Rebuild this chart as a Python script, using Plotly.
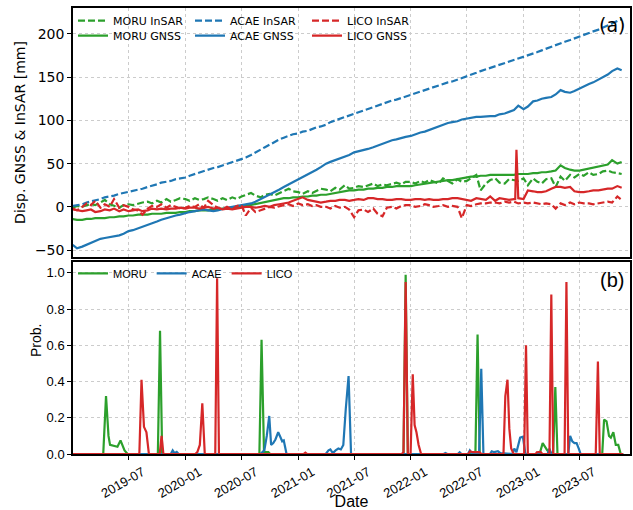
import pandas as pd
import plotly.graph_objects as go

# ---------------- data ----------------
# Panel (a): semi-monthly samples (1st and 15th of each month), 2019-01-01 .. 2023-11-15
GRID_START = "2019-01-01"
GRID_END = "2023-11-15"

ACAE_GNSS = [
    -44, -48, -46, -44, -42, -40, -37, -36, -35, -34, -33, -31, -28, -27, -25, -23, -21, -19, -17, -15, -13, -12, -10, -9,
    -7, -6, -5, -4, -3, -4, -5, -4, -2, -1, 0, 1, 2, 3, 4, 6, 9, 11, 14, 17, 20, 23, 26, 28,
    31, 34, 37, 40, 43, 46, 50, 52, 54, 56, 58, 60, 63, 64, 66, 67, 69, 71, 73, 75, 77, 78, 80, 81,
    82, 84, 86, 87, 89, 91, 93, 95, 97, 98, 99, 101, 102, 103, 104, 104, 105, 105, 105, 107, 108, 110, 112, 117,
    113, 116, 122, 123, 125, 126, 127, 130, 135, 133, 132, 134, 137, 139, 142, 144, 147, 150, 153, 157, 160, 158,
]
ACAE_INSAR = [
    1, 2, 3, 5, 6, 7, 9, 11, 12, 13, 15, 16, 18, 19, 20, 21, 23, 24, 26, 28, 29, 30, 32, 33,
    34, 36, 38, 40, 42, 43, 45, 46, 48, 50, 52, 53, 55, 57, 60, 63, 66, 69, 72, 75, 78, 80, 82, 84,
    85, 87, 88, 90, 92, 93, 95, 98, 100, 102, 104, 106, 108, 110, 112, 114, 116, 117, 119, 121, 123, 124, 126, 127,
    129, 131, 133, 135, 137, 139, 141, 142, 144, 145, 147, 149, 151, 153, 155, 157, 159, 161, 163, 164, 166, 168, 170, 171,
    173, 175, 177, 179, 181, 183, 185, 187, 189, 191, 193, 195, 197, 199, 201, 203, 205, 207, 210, 212, 215, 217,
]
MORU_GNSS = [
    -14, -15, -15, -14, -14, -13, -13, -13, -12, -12, -11, -11, -10, -10, -9, -9, -9, -8, -8, -8, -7, -7, -7, -6,
    -6, -5, -5, -4, -4, -4, -3, -3, -2, -2, -1, 0, 0, 1, 2, 3, 5, 6, 7, 8, 9, 10, 10, 11,
    11, 12, 12, 13, 13, 14, 14, 15, 16, 17, 18, 19, 19, 20, 20, 21, 21, 22, 22, 23, 23, 24, 24, 24,
    24, 25, 26, 27, 28, 29, 30, 30, 31, 31, 32, 33, 34, 35, 35, 36, 36, 37, 37, 37, 37, 37, 37, 38,
    38, 38, 39, 39, 40, 40, 41, 42, 48, 45, 43, 42, 42, 43, 44, 45, 46, 47, 49, 54, 50, 52,
]
MORU_INSAR = [
    -1, 1, 0, 2, 3, 2, 5, 8, 3, 1, -1, 2, 3, 2, 4, 5, 6, 4, 7, 5, 9, 6, 8, 10,
    9, 7, 10, 8, 9, 11, 9, 7, 10, 8, 11, 9, 12, 14, 16, 13, 11, 14, 15, 13, 16, 18, 21, 18,
    17, 15, 18, 16, 19, 21, 20, 18, 22, 20, 25, 21, 22, 24, 23, 25, 27, 24, 26, 25, 27, 28, 26, 29,
    29, 27, 30, 28, 31, 29, 27, 33, 30, 27, 32, 29, 30, 33, 37, 19, 27, 31, 33, 28, 27, 32, 31, 30,
    33, 25, 33, 29, 27, 32, 33, 23, 35, 30, 37, 34, 38, 36, 40, 37, 38, 41, 42, 40, 39, 38,
]
LICO_GNSS = [
    -3, -4, -5, -4, -3, -6, -5, -3, -4, -2, -5, -3, -5, -4, -3, -5, -4, -2, -3, -2, -3, -2, -2, -1,
    -2, -1, -1, -2, -1, 0, -2, -1, -3, -2, -3, -2, -1, 0, 0, -1, 0, 1, 0, 2, 3, 4, 5, 7,
    9, 11, 8, 7, 6, 5, 6, 7, 7, 8, 8, 7, 8, 9, 8, 10, 10, 9, 9, 8, 8, 9, 9, 8,
    8, 9, 9, 8, 9, 8, 8, 9, 9, 10, 10, 9, 8, 7, 10, 9, 8, 12, 7, 10, 9, 8, 9, 10,
    9, 19, 18, 17, 17, 18, 21, 23, 23, 22, 23, 18, 17, 17, 18, 19, 19, 20, 21, 21, 24, 22,
]
LICO_GNSS_SPIKE_DATES = ["2022-12-05", "2022-12-09", "2022-12-13"]
LICO_GNSS_SPIKE = [9, 66, 10]
LICO_INSAR = [
    -2, -4, 0, 4, 2, 7, -1, 3, 0, 9, -1, 2, 0, -3, -4, -9, -2, 1, 0, 3, -1, 2, 0, -2,
    -1, 1, 0, 3, -1, 7, 2, -1, -3, 0, -3, 1, 2, -10, -1, -6, -4, -2, 0, -1, 1, 2, 3, 1,
    4, 2, 3, 1, 2, 0, 0, -2, 1, -1, 0, -3, -12, -4, -3, -6, -2, -8, -11, -1, 0, -2, 1, 2,
    2, 0, 1, 3, 2, 0, 1, 2, 0, 1, 0, -13, 2, 1, 3, 4, 4, 5, 5, 4, 6, 5, 6, 4,
    5, 4, 5, 4, 3, 4, 3, -2, 4, 2, 5, 3, 5, 4, 4, 3, 4, 5, 6, 5, 12, 8,
]

# Panel (b): change probability, (date, value) pairs
MORU_PROB = [
    ("2019-01-01", 0), ("2019-04-10", 0), ("2019-04-19", 0.32), ("2019-04-27", 0.10), ("2019-05-02", 0.05),
    ("2019-05-19", 0.045), ("2019-05-26", 0.04), ("2019-06-05", 0.075), ("2019-06-11", 0.05), ("2019-06-18", 0.02),
    ("2019-06-28", 0), ("2019-10-04", 0), ("2019-10-11", 0.68), ("2019-10-18", 0),
    ("2020-08-28", 0), ("2020-09-04", 0.63), ("2020-09-12", 0.01), ("2020-09-26", 0.01), ("2020-10-02", 0),
    ("2021-12-08", 0), ("2021-12-15", 0.99), ("2021-12-22", 0),
    ("2022-07-29", 0), ("2022-08-05", 0.66), ("2022-08-12", 0),
    ("2023-02-22", 0), ("2023-03-04", 0.06), ("2023-03-11", 0.04), ("2023-03-19", 0.02), ("2023-04-07", 0),
    ("2023-04-14", 0.37), ("2023-04-21", 0),
    ("2023-09-13", 0), ("2023-09-19", 0.19), ("2023-09-27", 0.18), ("2023-10-05", 0.10), ("2023-10-11", 0.09),
    ("2023-10-19", 0.12), ("2023-10-27", 0.05), ("2023-11-04", 0.05), ("2023-11-12", 0), ("2023-11-20", 0),
]
ACAE_PROB = [
    ("2019-01-01", 0), ("2019-11-15", 0), ("2019-11-21", 0.02), ("2019-11-27", 0.005), ("2019-12-04", 0.012),
    ("2019-12-10", 0),
    ("2020-08-31", 0), ("2020-09-07", 0.01), ("2020-09-13", 0.02), ("2020-09-21", 0.10), ("2020-09-29", 0.21),
    ("2020-10-05", 0.05), ("2020-10-12", 0.06), ("2020-10-19", 0.08), ("2020-10-28", 0.12), ("2020-11-05", 0.09),
    ("2020-11-10", 0.07), ("2020-11-15", 0.075), ("2020-11-19", 0.03), ("2020-11-24", 0),
    ("2021-03-31", 0), ("2021-04-09", 0.02), ("2021-04-15", 0.025), ("2021-04-23", 0.005), ("2021-05-02", 0.02),
    ("2021-05-11", 0.03), ("2021-05-19", 0.025), ("2021-05-27", 0.05), ("2021-06-04", 0.25), ("2021-06-13", 0.43),
    ("2021-06-21", 0),
    ("2022-04-17", 0), ("2022-04-23", 0.005), ("2022-04-29", 0), ("2022-06-02", 0), ("2022-06-08", 0.01),
    ("2022-06-14", 0), ("2022-07-05", 0), ("2022-07-11", 0.02), ("2022-07-17", 0.005), ("2022-08-10", 0),
    ("2022-08-17", 0.47), ("2022-08-24", 0),
    ("2022-09-14", 0), ("2022-09-20", 0.015), ("2022-09-28", 0.01), ("2022-10-10", 0.015), ("2022-10-18", 0.005),
    ("2022-11-26", 0), ("2022-12-02", 0.03), ("2022-12-09", 0.01), ("2022-12-21", 0.09), ("2022-12-30", 0.095),
    ("2023-01-07", 0),
    ("2023-03-20", 0), ("2023-03-26", 0.03), ("2023-04-01", 0),
    ("2023-05-26", 0), ("2023-06-01", 0.10), ("2023-06-08", 0.07), ("2023-06-15", 0.06), ("2023-06-22", 0.06),
    ("2023-06-29", 0.03), ("2023-07-05", 0), ("2023-11-20", 0),
]
LICO_PROB = [
    ("2019-01-01", 0), ("2019-08-05", 0), ("2019-08-12", 0.41), ("2019-08-20", 0.15), ("2019-08-28", 0.12),
    ("2019-09-05", 0),
    ("2019-10-10", 0), ("2019-10-16", 0.10), ("2019-10-22", 0),
    ("2020-02-02", 0), ("2020-02-09", 0.01), ("2020-02-17", 0.05), ("2020-02-25", 0.28), ("2020-03-04", 0),
    ("2020-04-07", 0), ("2020-04-13", 0.97), ("2020-04-19", 0),
    ("2021-01-18", 0), ("2021-01-24", 0.008), ("2021-01-30", 0),
    ("2021-12-02", 0), ("2021-12-08", 0.01), ("2021-12-15", 0.95), ("2021-12-22", 0), ("2021-12-31", 0),
    ("2022-01-07", 0.44), ("2022-01-13", 0.16), ("2022-01-19", 0.12), ("2022-01-26", 0.05), ("2022-02-03", 0),
    ("2022-07-06", 0), ("2022-07-12", 0.015), ("2022-07-20", 0.01), ("2022-08-11", 0.01), ("2022-08-18", 0),
    ("2022-10-28", 0), ("2022-11-03", 0.32), ("2022-11-10", 0.41), ("2022-11-16", 0.14), ("2022-11-22", 0.03),
    ("2022-11-30", 0),
    ("2023-01-03", 0), ("2023-01-09", 0.60), ("2023-01-15", 0),
    ("2023-02-09", 0), ("2023-02-13", 0.01), ("2023-02-25", 0.012), ("2023-03-03", 0),
    ("2023-03-26", 0), ("2023-04-01", 0.88), ("2023-04-07", 0),
    ("2023-05-14", 0), ("2023-05-20", 0.95), ("2023-05-26", 0),
    ("2023-08-23", 0), ("2023-08-30", 0.51), ("2023-09-05", 0), ("2023-11-20", 0),
]

TICK_DATES = ["2019-07-01", "2020-01-01", "2020-07-01", "2021-01-01", "2021-07-01",
              "2022-01-01", "2022-07-01", "2023-01-01", "2023-07-01"]
TICK_LABELS = ["2019-07", "2020-01", "2020-07", "2021-01", "2021-07",
               "2022-01", "2022-07", "2023-01", "2023-07"]
X_RANGE = ["2019-01-02", "2023-12-12"]
YA_TICKS = [-50, 0, 50, 100, 150, 200]
YB_TICKS = [0.0, 0.2, 0.4, 0.6, 0.8, 1.0]

GREEN, BLUE, RED = "#2ca02c", "#1f77b4", "#d62728"

# ---------------- figure ----------------
W, H = 633, 510
L, R, T, B = 73, 3, 8, 56
PH = H - T - B
PW = W - L - R


def py(px):
    return 1 - (px - T) / PH


def pxx(px):
    return (px - L) / PW


grid = pd.date_range(GRID_START, GRID_END, freq="SMS")

lico_g = pd.concat([
    pd.Series(LICO_GNSS[:len(grid)], index=grid[:len(LICO_GNSS)]),
    pd.Series(LICO_GNSS_SPIKE, index=pd.to_datetime(LICO_GNSS_SPIKE_DATES)),
]).sort_index()

fig = go.Figure()

panel_a = [
    ("MORU InSAR", grid, MORU_INSAR, GREEN, "dash", "legend"),
    ("MORU GNSS", grid, MORU_GNSS, GREEN, "solid", "legend2"),
    ("ACAE InSAR", grid, ACAE_INSAR, BLUE, "dash", "legend"),
    ("ACAE GNSS", grid, ACAE_GNSS, BLUE, "solid", "legend2"),
    ("LICO InSAR", grid, LICO_INSAR, RED, "dash", "legend"),
    ("LICO GNSS", lico_g.index, lico_g.values, RED, "solid", "legend2"),
]
for name, x, y, col, dash, leg in panel_a:
    n = min(len(x), len(y))
    fig.add_trace(go.Scatter(
        x=list(x[:n]), y=list(y[:n]), name=name, mode="lines",
        line=dict(color=col, width=2.2, dash="7px,3px" if dash == "dash" else "solid"),
        xaxis="x", yaxis="y", legend=leg,
    ))

for name, pairs, col in [("MORU", MORU_PROB, GREEN), ("ACAE", ACAE_PROB, BLUE), ("LICO", LICO_PROB, RED)]:
    fig.add_trace(go.Scatter(
        x=[p[0] for p in pairs], y=[p[1] for p in pairs], name=name, mode="lines",
        line=dict(color=col, width=2.2), xaxis="x2", yaxis="y2", legend="legend3",
    ))

axis_common = dict(
    showline=True, mirror=True, linecolor="black", linewidth=1.5,
    showgrid=True, gridcolor="#cccccc", griddash="dot", gridwidth=1, zeroline=False,
)
DV = "DejaVu Sans"
LS = "Liberation Sans, Arial, sans-serif"

fig.update_layout(
    width=W, height=H, margin=dict(l=L, r=R, t=T, b=B, autoexpand=False),
    paper_bgcolor="white", plot_bgcolor="white",
    showlegend=True,
    xaxis=dict(domain=[0, 1], anchor="y", type="date", range=X_RANGE,
               tickvals=TICK_DATES, showticklabels=False, ticks="", **axis_common),
    yaxis=dict(domain=[py(257), 1], anchor="x", range=[-58, 230], tickvals=YA_TICKS,
               ticks="outside", ticklen=4, tickcolor="black",
               tickfont=dict(family=DV, size=14, color="black"),
               title=dict(text="Disp. GNSS & InSAR [mm]", font=dict(family=DV, size=14, color="black"), standoff=6),
               **axis_common),
    xaxis2=dict(domain=[0, 1], anchor="y2", type="date", range=X_RANGE, matches="x",
                tickvals=TICK_DATES, ticktext=TICK_LABELS, tickangle=-30, ticklabelshift=14,
                ticks="outside", ticklen=4, tickcolor="black",
                tickfont=dict(family=LS, size=13, color="black"),
                title=dict(text="Date", font=dict(family=LS, size=16, color="black"), standoff=4),
                **axis_common),
    yaxis2=dict(domain=[0, py(262)], anchor="x2", range=[0, 1.06], tickvals=YB_TICKS, tickformat=".1f",
                ticks="outside", ticklen=4, tickcolor="black",
                tickfont=dict(family=LS, size=13, color="black"),
                **axis_common),
    legend=dict(orientation="h", x=0.0, xanchor="left", y=py(20.7), yanchor="middle",
                font=dict(family=DV, size=11, color="black"), bgcolor="rgba(0,0,0,0)",
                entrywidth=72, entrywidthmode="pixels", itemwidth=30, borderwidth=0),
    legend2=dict(orientation="h", x=0.0, xanchor="left", y=py(35.7), yanchor="middle",
                 font=dict(family=DV, size=11, color="black"), bgcolor="rgba(0,0,0,0)",
                 entrywidth=72, entrywidthmode="pixels", itemwidth=30, borderwidth=0),
    legend3=dict(orientation="h", x=0.0, xanchor="left", y=py(273.3), yanchor="middle",
                 font=dict(family=LS, size=11, color="black"), bgcolor="rgba(0,0,0,0)",
                 itemwidth=30, borderwidth=0),
    annotations=[
        dict(text="(a)", x=pxx(612), y=py(25), xref="paper", yref="paper", showarrow=False,
             xanchor="center", yanchor="middle", font=dict(family=DV, size=19, color="black")),
        dict(text="(b)", x=pxx(612), y=py(280), xref="paper", yref="paper", showarrow=False,
             xanchor="center", yanchor="middle", font=dict(family=LS, size=20, color="black")),
        dict(text="Prob.", x=pxx(36), y=py(341), xref="paper", yref="paper", showarrow=False,
             textangle=-90, xanchor="center", yanchor="middle", font=dict(family=LS, size=14, color="black")),
    ],
)

fig.write_html("out.html")
